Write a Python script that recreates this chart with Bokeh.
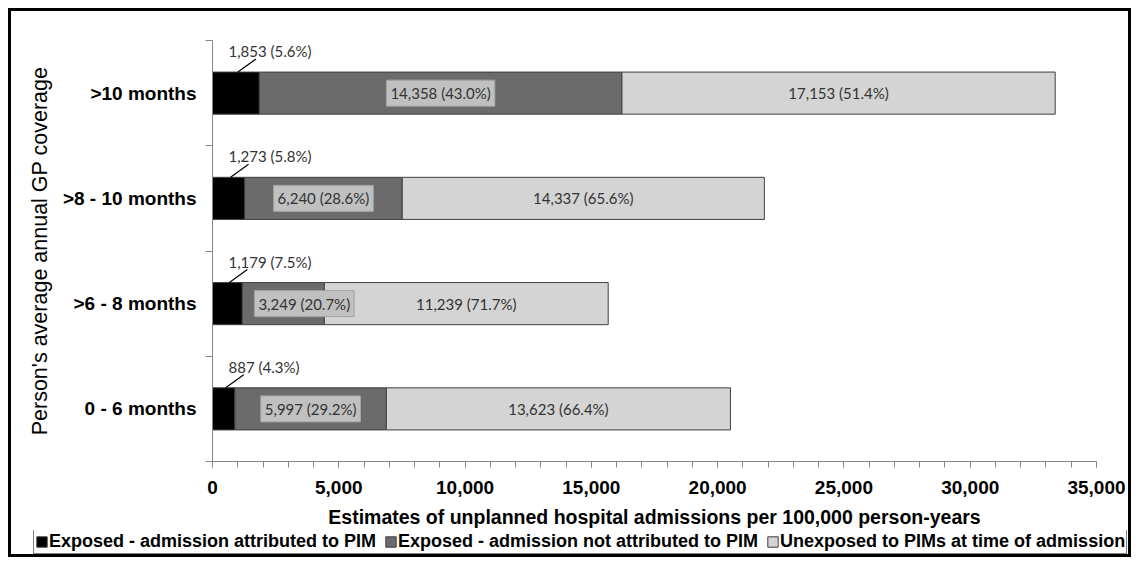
from bokeh.plotting import figure
from bokeh.layouts import column, row
from bokeh.models import ColumnDataSource, Range1d, FixedTicker, NumeralTickFormatter, Legend, LegendItem
from bokeh.embed import file_html
from bokeh.resources import INLINE
from bokeh.core.properties import value

# ---------------- data ----------------
categories = ["0 - 6 months", ">6 - 8 months", ">8 - 10 months", ">10 months"]
attributed = [887, 1179, 1273, 1853]
not_attributed = [5997, 3249, 6240, 14358]
unexposed = [13623, 11239, 14337, 17153]
pct_attributed = ["4.3%", "7.5%", "5.8%", "5.6%"]
pct_not_attributed = ["29.2%", "20.7%", "28.6%", "43.0%"]
pct_unexposed = ["66.4%", "71.7%", "65.6%", "51.4%"]
series_names = ["Exposed - admission attributed to PIM",
                "Exposed - admission not attributed to PIM",
                "Unexposed to PIMs at time of admission"]
x_major_ticks = [0, 5000, 10000, 15000, 20000, 25000, 30000, 35000]
x_minor_ticks = list(range(0, 35001, 1000))

# ---------------- layout ----------------
W = 1131
H_MAIN, H_LEG = 530, 27
FL, FR, FT, FB = 212, 35, 40, 68
XMAX = 35000
NCAT = len(categories)
frame_w = W - FL - FR
frame_h = H_MAIN - FT - FB
px_x = XMAX / frame_w
px_y = NCAT / frame_h

ARIAL = "Liberation Sans"
CAL = "Lato"
BAR_H = 0.4
COLORS = ["#000000", "#6b6b6b", "#d4d4d4"]
LINE_C = "#3f3f3f"

ys = [i + 0.5 for i in range(NCAT)]
l0 = [0] * NCAT
r0 = attributed
l1 = r0
r1 = [a + b for a, b in zip(attributed, not_attributed)]
l2 = r1
r2 = [a + b for a, b in zip(r1, unexposed)]
c1 = [(a + b) / 2 for a, b in zip(l1, r1)]
# keep the boxed label clear of the black segment (screen-pixel nudge)
c1_off = [max(0.0, (r / px_x + 62) - c / px_x) for r, c in zip(r0, c1)]

src = ColumnDataSource(dict(
    y=ys, l0=l0, r0=r0, l1=l1, r1=r1, l2=l2, r2=r2,
    lab0=[f"{v:,} ({p})" for v, p in zip(attributed, pct_attributed)],
    lab1=[f"{v:,} ({p})" for v, p in zip(not_attributed, pct_not_attributed)],
    lab2=[f"{v:,} ({p})" for v, p in zip(unexposed, pct_unexposed)],
    c1=c1, c1_off=c1_off,
    c2=[(a + b) / 2 for a, b in zip(l2, r2)],
    lab0_x=[16 * px_x] * NCAT,
    lab0_y=[y + 42 * px_y for y in ys],
    ln_x0=[v / 2 + 2 * px_x for v in attributed],
    ln_y0=[y + BAR_H / 2 for y in ys],
    ln_x1=[v / 2 + 20 * px_x for v in attributed],
    ln_y1=[y + BAR_H / 2 + 13 * px_y for y in ys],
))

p = figure(width=W, height=H_MAIN, output_backend="svg", toolbar_location=None,
           x_range=Range1d(0, XMAX), y_range=Range1d(0, NCAT),
           min_border_left=FL, min_border_right=FR, min_border_top=FT, min_border_bottom=FB)
p.outline_line_color = None
p.xgrid.visible = False
p.ygrid.visible = False
p.background_fill_color = "white"
p.border_fill_color = "white"

b0 = p.hbar(y="y", left="l0", right="r0", height=BAR_H, source=src,
            fill_color=COLORS[0], line_color=LINE_C, line_width=1)
b1 = p.hbar(y="y", left="l1", right="r1", height=BAR_H, source=src,
            fill_color=COLORS[1], line_color=LINE_C, line_width=1)
b2 = p.hbar(y="y", left="l2", right="r2", height=BAR_H, source=src,
            fill_color=COLORS[2], line_color=LINE_C, line_width=1)

# data labels
p.text(x="c1", y="y", text="lab1", source=src, x_offset="c1_off",
       text_align="center", text_baseline="middle",
       text_font=value(CAL), text_font_size="15px", text_color="#333333",
       background_fill_color="#c0c0c0", border_line_color="#a3a3a3", padding=4)
p.text(x="c2", y="y", text="lab2", source=src, text_align="center", text_baseline="middle",
       text_font=value(CAL), text_font_size="15px", text_color="#333333")
p.text(x="lab0_x", y="lab0_y", text="lab0", source=src, text_align="left", text_baseline="middle",
       text_font=value(CAL), text_font_size="15px", text_color="#333333")
p.segment(x0="ln_x0", y0="ln_y0", x1="ln_x1", y1="ln_y1", source=src,
          line_color="black", line_width=1.2)

# x axis
xa = p.xaxis[0]
xa.ticker = FixedTicker(ticks=x_major_ticks, minor_ticks=x_minor_ticks)
xa.formatter = NumeralTickFormatter(format="0,0")
xa.axis_line_color = "#868686"
xa.major_tick_line_color = "#868686"
xa.minor_tick_line_color = "#868686"
xa.major_tick_in = 0
xa.major_tick_out = 6
xa.minor_tick_in = 0
xa.minor_tick_out = 6
xa.major_label_standoff = 13
xa.major_label_text_font = ARIAL
xa.major_label_text_font_style = "bold"
xa.major_label_text_font_size = "19px"
xa.major_label_text_color = "black"
xa.axis_label = "Estimates of unplanned hospital admissions per 100,000 person-years"
xa.axis_label_text_font = ARIAL
xa.axis_label_text_font_style = "bold"
xa.axis_label_text_font_size = "19.5px"
xa.axis_label_text_color = "black"
xa.axis_label_standoff = 9

# y axis
ya = p.yaxis[0]
ya.ticker = FixedTicker(ticks=ys, minor_ticks=list(range(NCAT + 1)))
ya.major_label_overrides = {y: c for y, c in zip(ys, categories)}
ya.axis_line_color = "#868686"
ya.major_tick_line_color = None
ya.major_tick_in = 0
ya.major_tick_out = 0
ya.minor_tick_line_color = "#868686"
ya.minor_tick_in = 0
ya.minor_tick_out = 7
ya.major_label_standoff = 9
ya.major_label_text_font = ARIAL
ya.major_label_text_font_style = "bold"
ya.major_label_text_font_size = "19px"
ya.major_label_text_color = "black"
ya.axis_label = "Person's average annual GP coverage"
ya.axis_label_text_font = ARIAL
ya.axis_label_text_font_style = "normal"
ya.axis_label_text_font_size = "21.5px"
ya.axis_label_text_color = "black"
ya.axis_label_standoff = 8

# ---------------- legend strip ----------------
p2 = figure(width=W, height=H_LEG, output_backend="svg", toolbar_location=None,
            x_range=Range1d(0, XMAX), y_range=Range1d(NCAT + 10, NCAT + 11),
            min_border=0, min_border_left=0, min_border_right=0,
            min_border_top=0, min_border_bottom=0)
for fig in (p, p2):
    if "frame_align" in fig.properties():
        fig.frame_align = False
p2.outline_line_color = None
p2.axis.visible = False
p2.grid.visible = False
p2.background_fill_color = "white"
p2.border_fill_color = "white"
g = []
for left, right, col in [("l0", "r0", COLORS[0]), ("l1", "r1", COLORS[1]), ("l2", "r2", COLORS[2])]:
    g.append(p2.hbar(y="y", left=left, right=right, height=BAR_H, source=src,
                     fill_color=col, line_color=LINE_C, line_width=1))

legend = Legend(items=[LegendItem(label=n, renderers=[r]) for n, r in zip(series_names, g)],
                orientation="horizontal", location=(33, 3),
                label_text_font=ARIAL, label_text_font_style="bold",
                label_text_font_size="18px", label_text_color="black",
                glyph_width=13, glyph_height=13, label_standoff=1, spacing=8,
                label_height=16, padding=1, margin=0,
                border_line_color="black", border_line_width=1,
                background_fill_color="white", background_fill_alpha=1.0)
p2.add_layout(legend, "center")

layout = column(p, row(p2), spacing=0)
layout.stylesheets = [":host { position: relative; } "
                      ":host::after { content: ''; position: absolute; left: 8px; top: 8px; "
                      "right: 0px; bottom: 0px; border: 3px solid black; box-sizing: border-box; "
                      "pointer-events: none; z-index: 100; }"]

open("out.html", "w").write(file_html(layout, INLINE))
